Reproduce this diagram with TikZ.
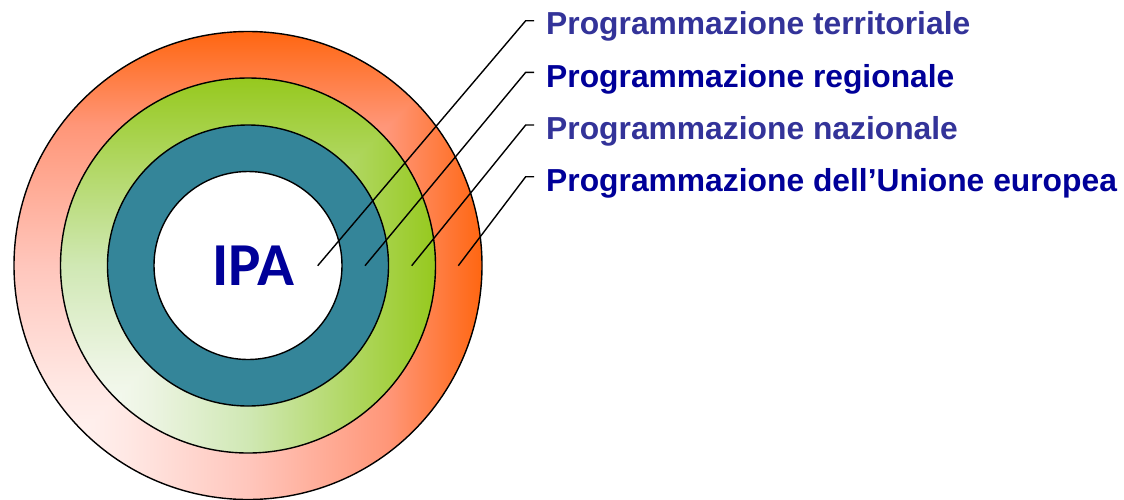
\documentclass[tikz,border=0pt]{standalone}
\usepackage{fontspec}
\setmainfont{Liberation Sans}
\newfontfamily\ipafont{Carlito}
\definecolor{orng}{RGB}{255,102,17}
\definecolor{orA}{RGB}{255,232,228}
\definecolor{orM}{RGB}{255,198,188}
\definecolor{orQ}{RGB}{255,150,120}
\definecolor{orL}{RGB}{255,255,255}
\definecolor{grn}{RGB}{150,201,30}
\definecolor{grA}{RGB}{236,244,226}
\definecolor{grM}{RGB}{208,232,180}
\definecolor{grL}{RGB}{255,255,255}
\definecolor{tealc}{RGB}{52,133,153}
\definecolor{navyA}{RGB}{0,0,153}
\definecolor{navyB}{RGB}{51,51,153}
\pgfdeclarehorizontalshading{orH}{100bp}{color(0bp)=(orL); color(25bp)=(orL); color(37bp)=(orA); color(50bp)=(orM); color(65bp)=(orQ); color(75bp)=(orng); color(100bp)=(orng)}
\pgfdeclareverticalshading{orV}{100bp}{color(0bp)=(orL); color(25bp)=(orL); color(37bp)=(orA); color(50bp)=(orM); color(65bp)=(orQ); color(75bp)=(orng); color(100bp)=(orng)}
\pgfdeclarehorizontalshading{grH}{100bp}{color(0bp)=(grL); color(25bp)=(grL); color(37bp)=(grA); color(50bp)=(grM); color(75bp)=(grn); color(100bp)=(grn)}
\pgfdeclareverticalshading{grV}{100bp}{color(0bp)=(grL); color(25bp)=(grL); color(37bp)=(grA); color(50bp)=(grM); color(75bp)=(grn); color(100bp)=(grn)}
\begin{document}
\begin{tikzpicture}[x=1pt,y=-1pt,
  ring/.style={circle, draw=black, line width=1.4pt, inner sep=0pt},
  lbl/.style={anchor=base west, inner sep=0pt, font=\bfseries\fontsize{31.8}{38}\selectfont},
  leader/.style={draw=black, line width=1.4pt}]
\useasboundingbox[fill=white] (0,0) rectangle (1124,499);
\coordinate (c) at (248,265.5);
% outer ring shading (rectangular gradient from the lower left corner)
\begin{scope}
  \clip (c) circle[radius=234];
  \shade[shading=orV] (14,499.5) rectangle (482,31.5);
  \shade[shading=orH] (14,499.5) -- (482,499.5) -- (482,31.5) -- cycle;
\end{scope}
% middle ring shading
\begin{scope}
  \clip (c) circle[radius=187.5];
  \shade[shading=grV] (60.5,453) rectangle (435.5,78);
  \shade[shading=grH] (60.5,453) -- (435.5,453) -- (435.5,78) -- cycle;
\end{scope}
\node[ring, minimum size=468pt] (r4) at (c) {};
\node[ring, minimum size=375pt] (r3) at (c) {};
\node[ring, minimum size=281pt, fill=tealc] (r2) at (c) {};
\node[ring, minimum size=188pt, fill=white] (r1) at (c) {};
\node[inner sep=0pt, text=navyA, font=\ipafont\bfseries\fontsize{61}{62}\selectfont] (ipa) at (253.4,266) {IPA};

\node[lbl, text=navyB] (l1) at (546,34.5) {Programmazione territoriale};
\node[lbl, text=navyA] (l2) at (546,87) {Programmazione regionale};
\node[lbl, text=navyB] (l3) at (546,139.5) {Programmazione nazionale};
\node[lbl, text=navyA] (l4) at (546,191.5) {Programmazione dell’Unione europea};

\coordinate (e1) at (317.7,265.7);
\coordinate (e2) at (365,265.7);
\coordinate (e3) at (411.7,265.7);
\coordinate (e4) at (458.3,265.7);
\coordinate (k1) at (525.7,20.7);
\coordinate (k2) at (525.7,72.3);
\coordinate (k3) at (525.7,125);
\coordinate (k4) at (525.7,176.7);
\coordinate (t1) at (534,20.7);
\coordinate (t2) at (534,72.3);
\coordinate (t3) at (534,125);
\coordinate (t4) at (534,176.7);
\draw[leader] (e1) -- (k1) -- (t1);
\draw[leader] (e2) -- (k2) -- (t2);
\draw[leader] (e3) -- (k3) -- (t3);
\draw[leader] (e4) -- (k4) -- (t4);
\end{tikzpicture}
\end{document}
